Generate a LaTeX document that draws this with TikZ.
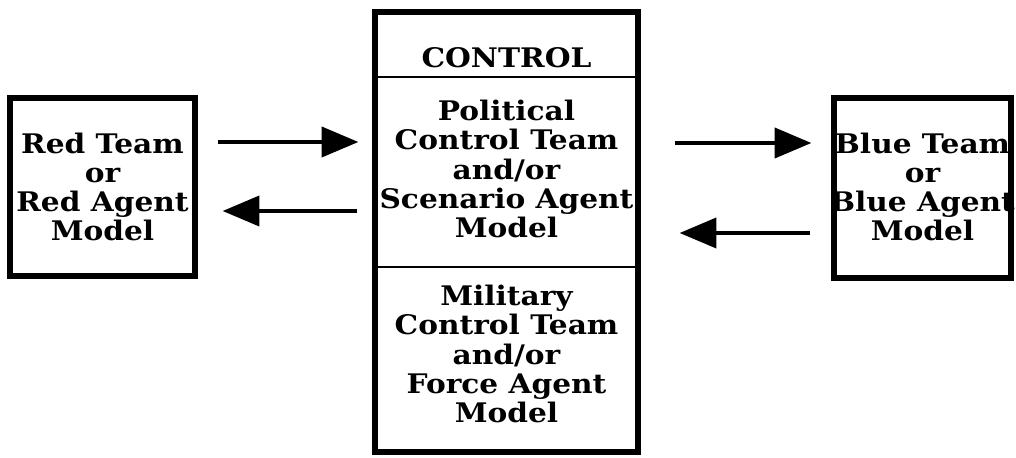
\documentclass[tikz,border=0pt]{standalone}
\usepackage{fontspec}
\newfontfamily\dfont{DejaVu Serif}[FakeStretch=1.1]
\usetikzlibrary{arrows.meta,calc}
\tikzset{
  boxstyle/.style={draw=black, line width=4.5pt, fill=white, inner sep=0pt},
  txt/.style={font=\dfont\bfseries\fontsize{23}{25}\selectfont, align=center, inner sep=0pt},
  divider/.style={line width=1.6pt},
  arr/.style={line width=3.2pt, -{Triangle[length=1.1cm,width=0.9cm]}}
}
\begin{document}
\begin{tikzpicture}[x=0.03cm,y=-0.03cm]
\useasboundingbox (0,0) rectangle (1016,458);
% boxes
\node[boxstyle, minimum width=185*0.03cm, minimum height=178*0.03cm] (red) at (102.5,187) {};
\node[boxstyle, minimum width=177*0.03cm, minimum height=180*0.03cm] (blue) at (922.5,188) {};
\node[boxstyle, minimum width=263*0.03cm, minimum height=440*0.03cm] (ctrl) at (506.5,232) {};
% dividers
\coordinate (d1l) at (ctrl.west |- 0,77);
\coordinate (d1r) at (ctrl.east |- 0,77);
\coordinate (d2l) at (ctrl.west |- 0,267);
\coordinate (d2r) at (ctrl.east |- 0,267);
\draw[divider] (d1l) -- (d1r);
\draw[divider] (d2l) -- (d2r);
% texts
\node[txt] (redtxt) at (102.5,187) {Red Team\\or\\Red Agent\\Model};
\node[txt] (bluetxt) at (922.5,187) {Blue Team\\or\\Blue Agent\\Model};
\node[txt] (ctitle) at (506.5,58) {CONTROL};
\node[txt] (cpol) at (506.5,169) {Political\\Control Team\\and/or\\Scenario Agent\\Model};
\node[txt] (cmil) at (506.5,354) {Military\\Control Team\\and/or\\Force Agent\\Model};
% arrow end points
\coordinate (a1s) at ($(red.east |- 0,142)+(20,0)$);
\coordinate (a1e) at ($(ctrl.west |- 0,142)+(-14,0)$);
\coordinate (a2s) at ($(ctrl.west |- 0,211)+(-15,0)$);
\coordinate (a2e) at ($(red.east |- 0,211)+(25,0)$);
\coordinate (a3s) at ($(ctrl.east |- 0,143)+(34,0)$);
\coordinate (a3e) at ($(blue.west |- 0,143)+(-20,0)$);
\coordinate (a4s) at ($(blue.west |- 0,233)+(-21,0)$);
\coordinate (a4e) at ($(ctrl.east |- 0,233)+(39,0)$);
\draw[arr] (a1s) -- (a1e);
\draw[arr] (a2s) -- (a2e);
\draw[arr] (a3s) -- (a3e);
\draw[arr] (a4s) -- (a4e);
\end{tikzpicture}
\end{document}
